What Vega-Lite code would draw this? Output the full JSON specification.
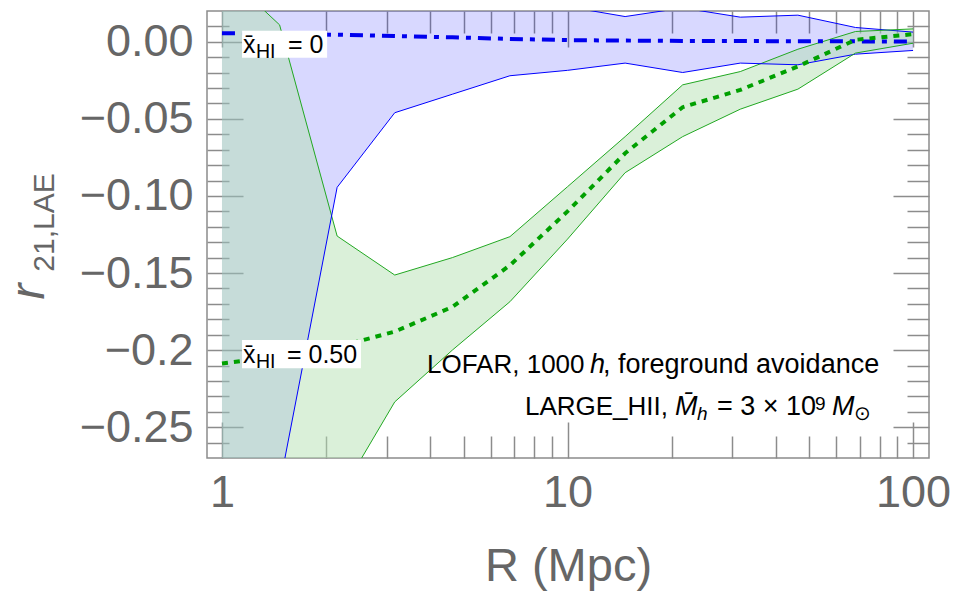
{
  "$schema": "https://vega.github.io/schema/vega-lite/v6.json",
  "width": 722,
  "height": 447,
  "autosize": {"type": "none"},
  "padding": {"left": 207, "top": 11, "right": 28, "bottom": 136},
  "background": "white",
  "config": {
    "font": "Liberation Sans",
    "view": {"stroke": "#8c8c8c", "strokeWidth": 1.5},
    "axis": {"tickColor": "#8c8c8c", "tickWidth": 1.5, "labelFont": "Liberation Sans", "titleFont": "Liberation Sans", "grid": false, "domain": false}
  },
  "datasets": {
    "bands": [
      {"series": "0", "R": 1, "lo": -0.45, "hi": 0.03, "mid": 0.0056},
      {"series": "0", "R": 1.468, "lo": -0.288, "hi": 0.03, "mid": 0.0052},
      {"series": "0", "R": 2.154, "lo": -0.0944, "hi": 0.03, "mid": 0.0046},
      {"series": "0", "R": 3.162, "lo": -0.046, "hi": 0.03, "mid": 0.0038},
      {"series": "0", "R": 4.642, "lo": -0.034, "hi": 0.03, "mid": 0.0029},
      {"series": "0", "R": 6.813, "lo": -0.022, "hi": 0.03, "mid": 0.0019},
      {"series": "0", "R": 10, "lo": -0.0185, "hi": 0.0228, "mid": 0.0011},
      {"series": "0", "R": 14.68, "lo": -0.0138, "hi": 0.0164, "mid": 0.0008},
      {"series": "0", "R": 21.54, "lo": -0.0199, "hi": 0.022, "mid": 0.0006},
      {"series": "0", "R": 31.62, "lo": -0.0138, "hi": 0.016, "mid": 0.0005},
      {"series": "0", "R": 46.42, "lo": -0.0149, "hi": 0.0173, "mid": 0.0004},
      {"series": "0", "R": 68.13, "lo": -0.008, "hi": 0.0093, "mid": 0.0003},
      {"series": "0", "R": 100, "lo": -0.0056, "hi": 0.0063, "mid": 0.0002},
      {"series": "0.50", "R": 1, "lo": -0.6, "hi": 0.046, "mid": -0.2087},
      {"series": "0.50", "R": 1.468, "lo": -0.45, "hi": 0.011, "mid": -0.204},
      {"series": "0.50", "R": 2.154, "lo": -0.297, "hi": -0.126, "mid": -0.198},
      {"series": "0.50", "R": 3.162, "lo": -0.2336, "hi": -0.1513, "mid": -0.188},
      {"series": "0.50", "R": 4.642, "lo": -0.2, "hi": -0.14, "mid": -0.172},
      {"series": "0.50", "R": 6.813, "lo": -0.1686, "hi": -0.1264, "mid": -0.145},
      {"series": "0.50", "R": 10, "lo": -0.128, "hi": -0.094, "mid": -0.11},
      {"series": "0.50", "R": 14.68, "lo": -0.0849, "hi": -0.0615, "mid": -0.0723},
      {"series": "0.50", "R": 21.54, "lo": -0.0615, "hi": -0.0279, "mid": -0.0424},
      {"series": "0.50", "R": 31.62, "lo": -0.0437, "hi": -0.0193, "mid": -0.0312},
      {"series": "0.50", "R": 46.42, "lo": -0.0307, "hi": -0.0048, "mid": -0.016},
      {"series": "0.50", "R": 68.13, "lo": -0.0073, "hi": 0.0067, "mid": 0.0013},
      {"series": "0.50", "R": 100, "lo": -0.0009, "hi": 0.0084, "mid": 0.005}
    ]
  },
  "layer": [
    {
      "data": {"name": "bands"},
      "transform": [{"filter": "datum.series == '0'"}],
      "mark": {"type": "area", "clip": true, "color": "#0000ff", "fillOpacity": 0.153, "interpolate": "linear"},
      "encoding": {
        "x": {"field": "R", "type": "quantitative", "scale": {"type": "log", "domain": [0.905, 111.2], "nice": false},
          "axis": {"orient": "bottom", "values": [1, 10, 100], "ticks": false, "labelFontSize": 45, "labelColor": "#666666", "labelPadding": 12, "labelFlush": false, "labelOverlap": false, "labelBound": false, "labelExpr": "format(datum.value, 'd')",
            "title": "R (Mpc)", "titleFontSize": 47, "titleFontWeight": "normal", "titleColor": "#666666", "titleBaseline": "alphabetic", "titleAlign": "center", "titleX": 361, "titleY": 122}},
        "y": {"field": "hi", "type": "quantitative", "scale": {"domain": [-0.27, 0.02], "nice": false, "zero": false},
          "axis": {"orient": "left", "values": [0, -0.05, -0.1, -0.15, -0.2, -0.25], "ticks": false, "labelFontSize": 45, "labelColor": "#666666", "labelPadding": 14, "labelFlush": false, "labelOverlap": false, "labelBound": false,
            "labelExpr": "datum.value == -0.2 ? '\u22120.2' : replace(format(datum.value, '.2f'), '-', '\u2212')",
            "title": "r", "titleFontStyle": "italic", "titleFontSize": 48, "titleFontWeight": "normal", "titleColor": "#666666", "titleAngle": 270, "titleBaseline": "alphabetic", "titleAlign": "center", "titleX": -164, "titleY": 280}},
        "y2": {"field": "lo"}
      }
    },
    {
      "data": {"name": "bands"},
      "transform": [{"filter": "datum.series == '0.50'"}],
      "mark": {"type": "area", "clip": true, "color": "#b3e0b2", "fillOpacity": 0.49, "interpolate": "linear"},
      "encoding": {
        "x": {"field": "R", "type": "quantitative", "scale": {"type": "log", "domain": [0.905, 111.2], "nice": false}, "axis": null},
        "y": {"field": "hi", "type": "quantitative", "scale": {"domain": [-0.27, 0.02], "nice": false, "zero": false}, "axis": null},
        "y2": {"field": "lo"}
      }
    },
    {
      "data": {"name": "bands"},
      "mark": {"type": "line", "clip": true, "strokeWidth": 1},
      "encoding": {
        "x": {"field": "R", "type": "quantitative", "scale": {"type": "log", "domain": [0.905, 111.2], "nice": false},
          "axis": {"orient": "bottom", "values": [1, 10, 100], "labels": false, "tickSize": 36, "offset": -36, "title": null}},
        "y": {"field": "hi", "type": "quantitative", "scale": {"domain": [-0.27, 0.02], "nice": false, "zero": false},
          "axis": {"orient": "left", "values": [0, -0.05, -0.1, -0.15, -0.2, -0.25], "labels": false, "tickSize": 36, "offset": -36,
            "title": "21,LAE", "titleFontSize": 30, "titleFontWeight": "normal", "titleColor": "#666666", "titleAngle": 270, "titleBaseline": "alphabetic", "titleAlign": "center", "titleX": -190, "titleY": 211}},
        "color": {"field": "series", "type": "nominal", "scale": {"domain": ["0", "0.50"], "range": ["#0000ff", "#22a822"]}, "legend": null}
      }
    },
    {
      "data": {"name": "bands"},
      "mark": {"type": "line", "clip": true, "strokeWidth": 1},
      "encoding": {
        "x": {"field": "R", "type": "quantitative", "scale": {"type": "log", "domain": [0.905, 111.2], "nice": false},
          "axis": {"orient": "bottom", "values": [2, 3, 4, 5, 6, 7, 8, 9, 20, 30, 40, 50, 60, 70, 80, 90], "labels": false, "tickSize": 22, "offset": -22, "title": null}},
        "y": {"field": "lo", "type": "quantitative", "scale": {"domain": [-0.27, 0.02], "nice": false, "zero": false},
          "axis": {"orient": "left", "values": [0.01, -0.01, -0.02, -0.03, -0.04, -0.06, -0.07, -0.08, -0.09, -0.11, -0.12, -0.13, -0.14, -0.16, -0.17, -0.18, -0.19, -0.21, -0.22, -0.23, -0.24, -0.26], "labels": false, "tickSize": 22, "offset": -22, "title": null}},
        "color": {"field": "series", "type": "nominal", "scale": {"domain": ["0", "0.50"], "range": ["#0000ff", "#22a822"]}, "legend": null}
      }
    },
    {
      "data": {"name": "bands"},
      "transform": [{"filter": "datum.series == '0'"}],
      "mark": {"type": "line", "clip": true, "strokeWidth": 4, "color": "#0000ee", "strokeDash": [13, 7, 5, 7]},
      "encoding": {
        "x": {"field": "R", "type": "quantitative", "scale": {"type": "log", "domain": [0.905, 111.2], "nice": false},
          "axis": {"orient": "top", "values": [1, 10, 100], "labels": false, "tickSize": 36, "offset": -36, "title": null}},
        "y": {"field": "mid", "type": "quantitative", "scale": {"domain": [-0.27, 0.02], "nice": false, "zero": false},
          "axis": {"orient": "right", "values": [0, -0.05, -0.1, -0.15, -0.2, -0.25], "labels": false, "tickSize": 36, "offset": -36, "title": null}}
      }
    },
    {
      "data": {"name": "bands"},
      "transform": [{"filter": "datum.series == '0.50'"}],
      "mark": {"type": "line", "clip": true, "strokeWidth": 4, "color": "#00a000", "strokeDash": [6, 6]},
      "encoding": {
        "x": {"field": "R", "type": "quantitative", "scale": {"type": "log", "domain": [0.905, 111.2], "nice": false},
          "axis": {"orient": "top", "values": [2, 3, 4, 5, 6, 7, 8, 9, 20, 30, 40, 50, 60, 70, 80, 90], "labels": false, "tickSize": 22, "offset": -22, "title": null}},
        "y": {"field": "mid", "type": "quantitative", "scale": {"domain": [-0.27, 0.02], "nice": false, "zero": false},
          "axis": {"orient": "right", "values": [0.01, -0.01, -0.02, -0.03, -0.04, -0.06, -0.07, -0.08, -0.09, -0.11, -0.12, -0.13, -0.14, -0.16, -0.17, -0.18, -0.19, -0.21, -0.22, -0.23, -0.24, -0.26], "labels": false, "tickSize": 22, "offset": -22, "title": null}}
      }
    },
    {
      "data": {"values": [{}]},
      "mark": {"type": "rect", "fill": "white"},
      "encoding": {
        "x": {"datum": 1.143, "type": "quantitative", "scale": {"type": "log", "domain": [0.905, 111.2], "nice": false}, "axis": null},
        "x2": {"datum": 2.015},
        "y": {"datum": 0.00714, "type": "quantitative", "scale": {"domain": [-0.27, 0.02], "nice": false, "zero": false}, "axis": null},
        "y2": {"datum": -0.0104}
      }
    },
    {
      "data": {"values": [{}]},
      "mark": {"type": "rect", "fill": "white"},
      "encoding": {
        "x": {"datum": 1.143, "type": "quantitative", "scale": {"type": "log", "domain": [0.905, 111.2], "nice": false}, "axis": null},
        "x2": {"datum": 2.525},
        "y": {"datum": -0.1935, "type": "quantitative", "scale": {"domain": [-0.27, 0.02], "nice": false, "zero": false}, "axis": null},
        "y2": {"datum": -0.2117}
      }
    },
    {
      "data": {"values": [{}]},
      "mark": {"type": "text", "text": "x\u0304", "align": "left", "baseline": "alphabetic", "fontSize": 25, "color": "black"},
      "encoding": {
        "x": {"datum": 1.15, "type": "quantitative", "scale": {"type": "log", "domain": [0.905, 111.2], "nice": false}, "axis": null},
        "y": {"datum": -0.00714, "type": "quantitative", "scale": {"domain": [-0.27, 0.02], "nice": false, "zero": false}, "axis": null}
      }
    },
    {
      "data": {"values": [{}]},
      "mark": {"type": "text", "text": "HI", "align": "left", "baseline": "alphabetic", "fontSize": 19.5, "color": "black", "dx": 13, "dy": 4.7},
      "encoding": {
        "x": {"datum": 1.15, "type": "quantitative", "scale": {"type": "log", "domain": [0.905, 111.2], "nice": false}, "axis": null},
        "y": {"datum": -0.00714, "type": "quantitative", "scale": {"domain": [-0.27, 0.02], "nice": false, "zero": false}, "axis": null}
      }
    },
    {
      "data": {"values": [{}]},
      "mark": {"type": "text", "text": "= 0", "align": "left", "baseline": "alphabetic", "fontSize": 25, "color": "black", "dx": 45},
      "encoding": {
        "x": {"datum": 1.15, "type": "quantitative", "scale": {"type": "log", "domain": [0.905, 111.2], "nice": false}, "axis": null},
        "y": {"datum": -0.00714, "type": "quantitative", "scale": {"domain": [-0.27, 0.02], "nice": false, "zero": false}, "axis": null}
      }
    },
    {
      "data": {"values": [{}]},
      "mark": {"type": "text", "text": "x\u0304", "align": "left", "baseline": "alphabetic", "fontSize": 25, "color": "black"},
      "encoding": {
        "x": {"datum": 1.15, "type": "quantitative", "scale": {"type": "log", "domain": [0.905, 111.2], "nice": false}, "axis": null},
        "y": {"datum": -0.2084, "type": "quantitative", "scale": {"domain": [-0.27, 0.02], "nice": false, "zero": false}, "axis": null}
      }
    },
    {
      "data": {"values": [{}]},
      "mark": {"type": "text", "text": "HI", "align": "left", "baseline": "alphabetic", "fontSize": 19.5, "color": "black", "dx": 13, "dy": 4.7},
      "encoding": {
        "x": {"datum": 1.15, "type": "quantitative", "scale": {"type": "log", "domain": [0.905, 111.2], "nice": false}, "axis": null},
        "y": {"datum": -0.2084, "type": "quantitative", "scale": {"domain": [-0.27, 0.02], "nice": false, "zero": false}, "axis": null}
      }
    },
    {
      "data": {"values": [{}]},
      "mark": {"type": "text", "text": "= 0.50", "align": "left", "baseline": "alphabetic", "fontSize": 25, "color": "black", "dx": 44},
      "encoding": {
        "x": {"datum": 1.15, "type": "quantitative", "scale": {"type": "log", "domain": [0.905, 111.2], "nice": false}, "axis": null},
        "y": {"datum": -0.2084, "type": "quantitative", "scale": {"domain": [-0.27, 0.02], "nice": false, "zero": false}, "axis": null}
      }
    },
    {
      "data": {"values": [{}]},
      "mark": {"type": "text", "text": "LOFAR, 1000", "align": "left", "baseline": "alphabetic", "fontSize": 26, "color": "black"},
      "encoding": {
        "x": {"datum": 3.92, "type": "quantitative", "scale": {"type": "log", "domain": [0.905, 111.2], "nice": false}, "axis": null},
        "y": {"datum": -0.2146, "type": "quantitative", "scale": {"domain": [-0.27, 0.02], "nice": false, "zero": false}, "axis": null}
      }
    },
    {
      "data": {"values": [{}]},
      "mark": {"type": "text", "text": "h", "align": "left", "baseline": "alphabetic", "fontSize": 27, "fontStyle": "italic", "color": "black", "dx": 163},
      "encoding": {
        "x": {"datum": 3.92, "type": "quantitative", "scale": {"type": "log", "domain": [0.905, 111.2], "nice": false}, "axis": null},
        "y": {"datum": -0.2146, "type": "quantitative", "scale": {"domain": [-0.27, 0.02], "nice": false, "zero": false}, "axis": null}
      }
    },
    {
      "data": {"values": [{}]},
      "mark": {"type": "text", "text": ", foreground avoidance", "align": "left", "baseline": "alphabetic", "fontSize": 27, "color": "black", "dx": 176},
      "encoding": {
        "x": {"datum": 3.92, "type": "quantitative", "scale": {"type": "log", "domain": [0.905, 111.2], "nice": false}, "axis": null},
        "y": {"datum": -0.2146, "type": "quantitative", "scale": {"domain": [-0.27, 0.02], "nice": false, "zero": false}, "axis": null}
      }
    },
    {
      "data": {"values": [{}]},
      "mark": {"type": "text", "text": "LARGE_HII,", "align": "left", "baseline": "alphabetic", "fontSize": 26, "color": "black"},
      "encoding": {
        "x": {"datum": 7.53, "type": "quantitative", "scale": {"type": "log", "domain": [0.905, 111.2], "nice": false}, "axis": null},
        "y": {"datum": -0.2422, "type": "quantitative", "scale": {"domain": [-0.27, 0.02], "nice": false, "zero": false}, "axis": null}
      }
    },
    {
      "data": {"values": [{}]},
      "mark": {"type": "text", "text": "M\u0304", "align": "left", "baseline": "alphabetic", "fontSize": 27, "fontStyle": "italic", "color": "black", "dx": 150},
      "encoding": {
        "x": {"datum": 7.53, "type": "quantitative", "scale": {"type": "log", "domain": [0.905, 111.2], "nice": false}, "axis": null},
        "y": {"datum": -0.2422, "type": "quantitative", "scale": {"domain": [-0.27, 0.02], "nice": false, "zero": false}, "axis": null}
      }
    },
    {
      "data": {"values": [{}]},
      "mark": {"type": "text", "text": "h", "align": "left", "baseline": "alphabetic", "fontSize": 19, "fontStyle": "italic", "color": "black", "dx": 172, "dy": 5},
      "encoding": {
        "x": {"datum": 7.53, "type": "quantitative", "scale": {"type": "log", "domain": [0.905, 111.2], "nice": false}, "axis": null},
        "y": {"datum": -0.2422, "type": "quantitative", "scale": {"domain": [-0.27, 0.02], "nice": false, "zero": false}, "axis": null}
      }
    },
    {
      "data": {"values": [{}]},
      "mark": {"type": "text", "text": "= 3 \u00d7 10", "align": "left", "baseline": "alphabetic", "fontSize": 27, "color": "black", "dx": 192},
      "encoding": {
        "x": {"datum": 7.53, "type": "quantitative", "scale": {"type": "log", "domain": [0.905, 111.2], "nice": false}, "axis": null},
        "y": {"datum": -0.2422, "type": "quantitative", "scale": {"domain": [-0.27, 0.02], "nice": false, "zero": false}, "axis": null}
      }
    },
    {
      "data": {"values": [{}]},
      "mark": {"type": "text", "text": "9", "align": "left", "baseline": "alphabetic", "fontSize": 19, "color": "black", "dx": 290, "dy": -5},
      "encoding": {
        "x": {"datum": 7.53, "type": "quantitative", "scale": {"type": "log", "domain": [0.905, 111.2], "nice": false}, "axis": null},
        "y": {"datum": -0.2422, "type": "quantitative", "scale": {"domain": [-0.27, 0.02], "nice": false, "zero": false}, "axis": null}
      }
    },
    {
      "data": {"values": [{}]},
      "mark": {"type": "text", "text": "M", "align": "left", "baseline": "alphabetic", "fontSize": 27, "fontStyle": "italic", "color": "black", "dx": 307},
      "encoding": {
        "x": {"datum": 7.53, "type": "quantitative", "scale": {"type": "log", "domain": [0.905, 111.2], "nice": false}, "axis": null},
        "y": {"datum": -0.2422, "type": "quantitative", "scale": {"domain": [-0.27, 0.02], "nice": false, "zero": false}, "axis": null}
      }
    },
    {
      "data": {"values": [{}]},
      "mark": {"type": "text", "text": "\u2299", "align": "left", "baseline": "alphabetic", "fontSize": 20, "color": "black", "dx": 329, "dy": 5},
      "encoding": {
        "x": {"datum": 7.53, "type": "quantitative", "scale": {"type": "log", "domain": [0.905, 111.2], "nice": false}, "axis": null},
        "y": {"datum": -0.2422, "type": "quantitative", "scale": {"domain": [-0.27, 0.02], "nice": false, "zero": false}, "axis": null}
      }
    }
  ],
  "resolve": {"axis": {"x": "independent", "y": "independent"}}
}
